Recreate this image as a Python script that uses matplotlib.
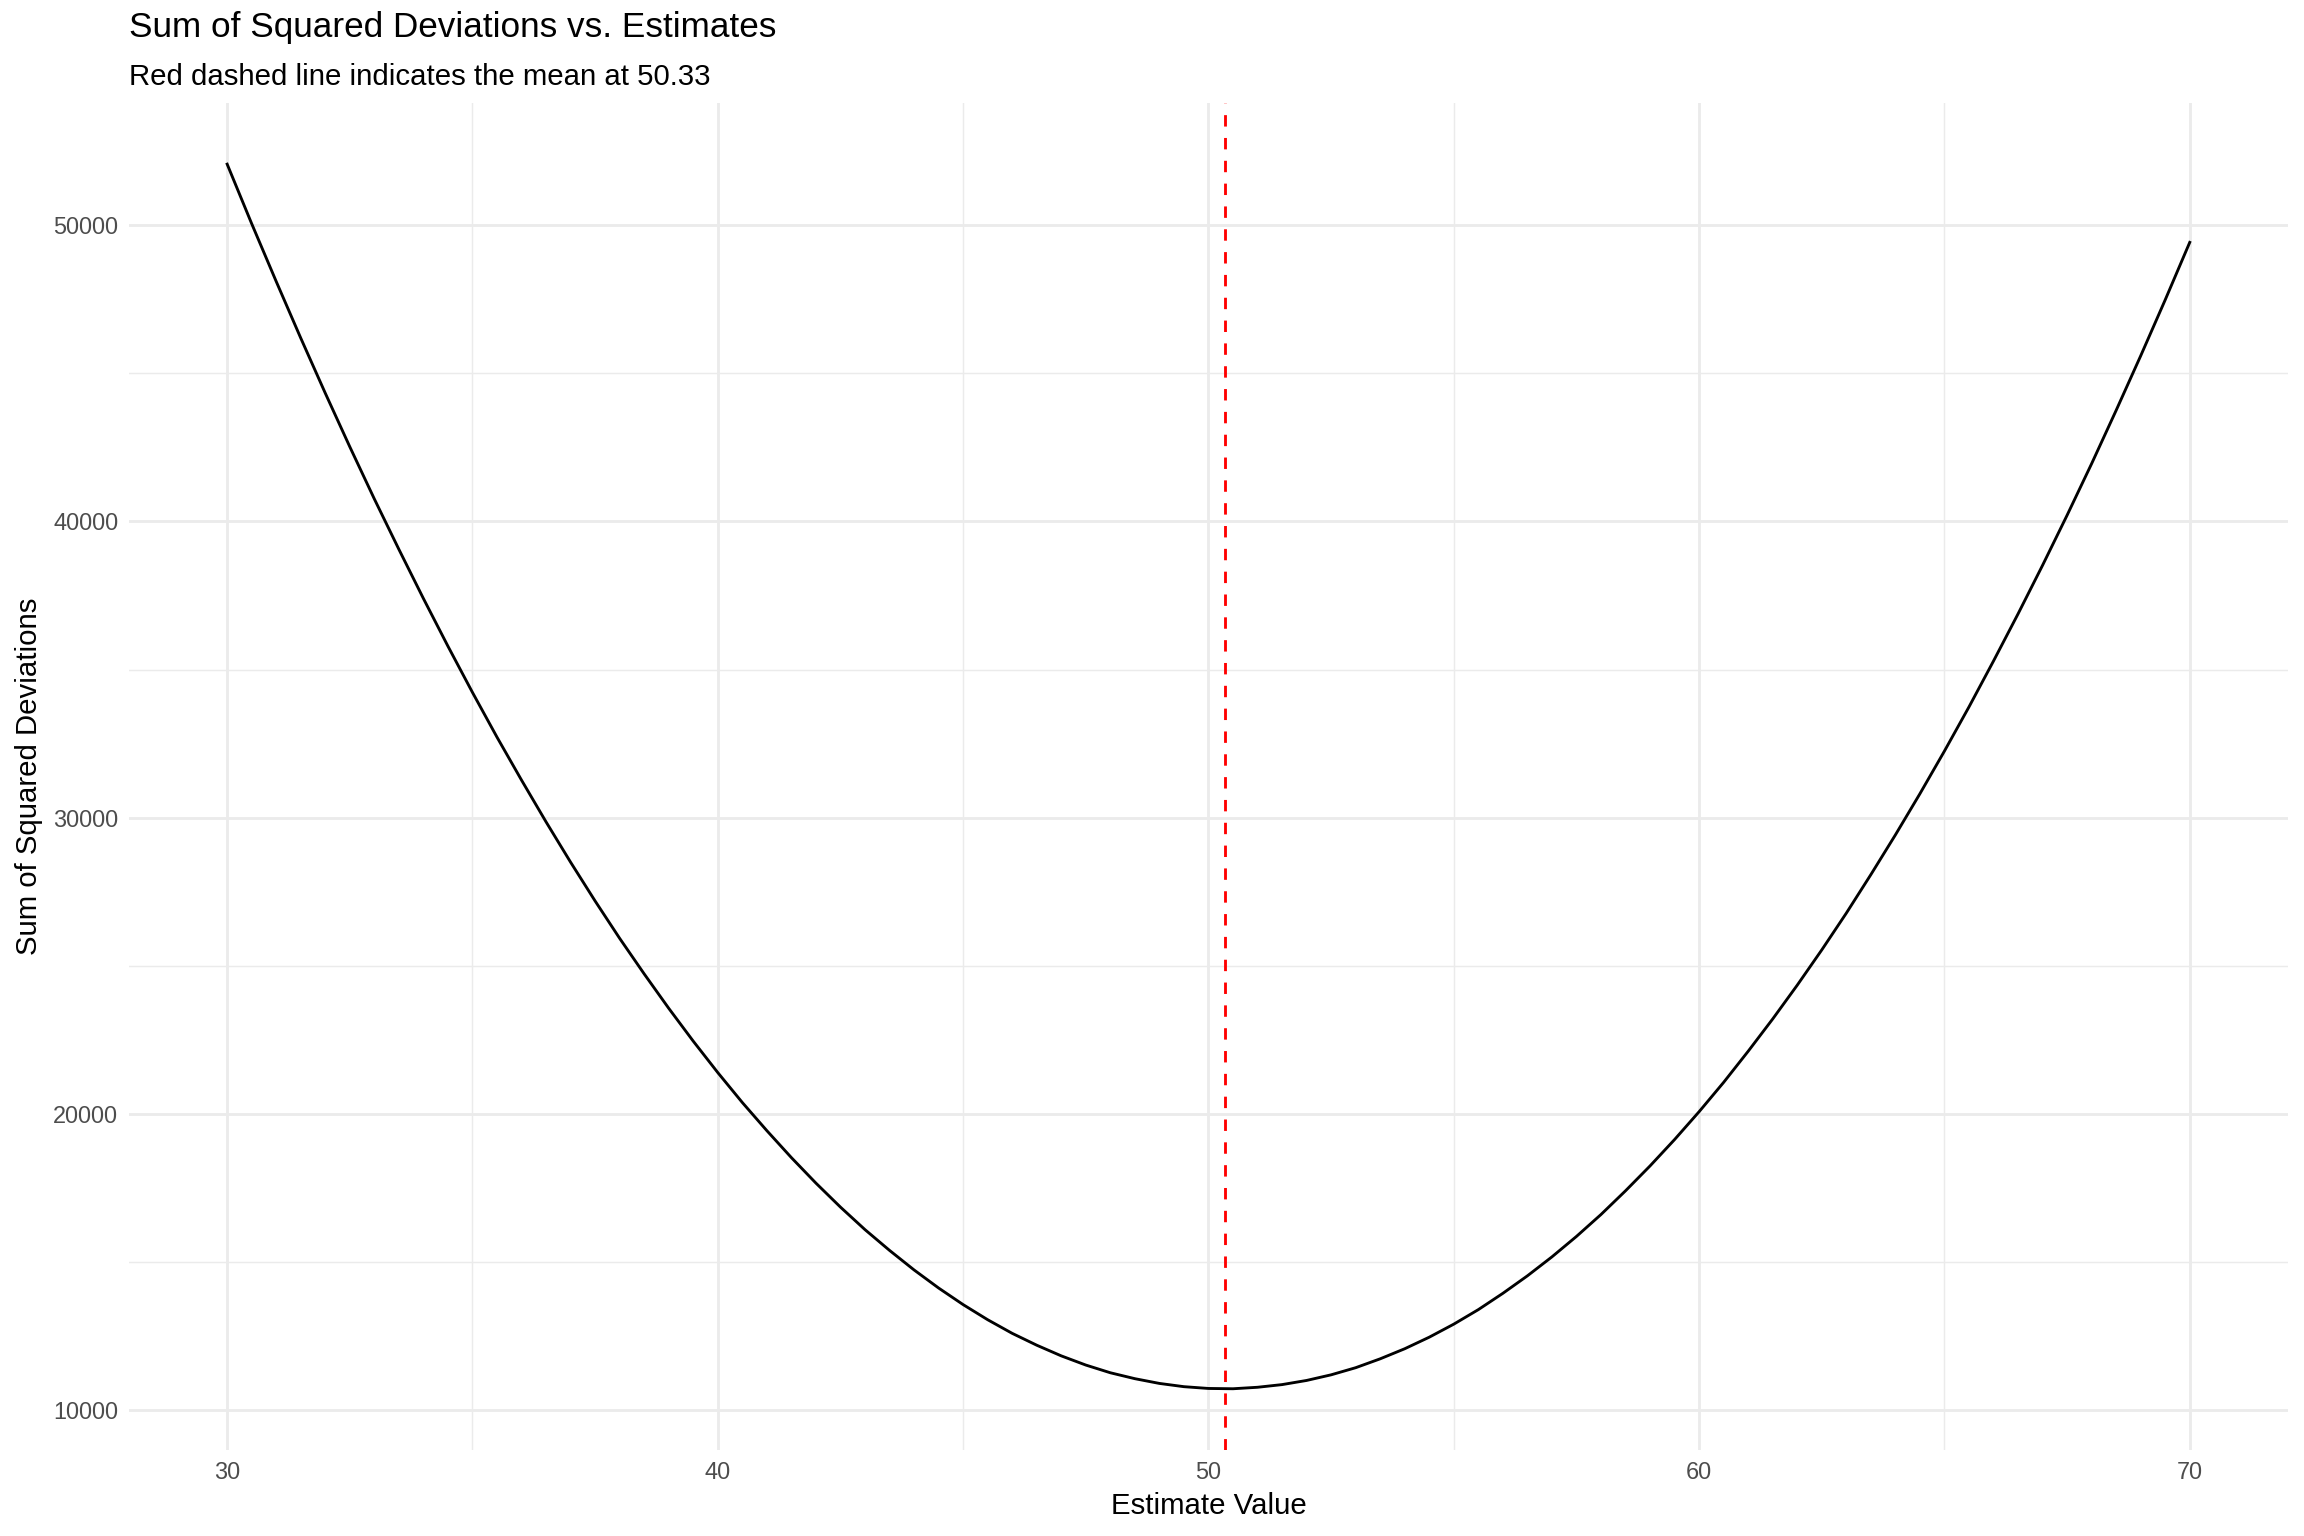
import numpy as np
import matplotlib.pyplot as plt
from matplotlib.ticker import MultipleLocator

# values, every half unit of estimate from 30 to 70
estimates = np.arange(30, 70.5, 0.5)
ssd = [52060, 50050, 48100, 46190, 44330, 42520, 40760, 39060, 37400, 35790,
       34230, 32720, 31270, 29860, 28500, 27190, 25930, 24730, 23570, 22460,
       21400, 20390, 19440, 18530, 17670, 16860, 16100, 15400, 14740, 14130,
       13570, 13060, 12600, 12200, 11840, 11530, 11270, 11070, 10910, 10800,
       10740, 10730, 10780, 10870, 11010, 11200, 11440, 11740, 12080, 12470,
       12910, 13400, 13950, 14540, 15180, 15870, 16610, 17410, 18250, 19140,
       20080, 21070, 22120, 23210, 24350, 25540, 26780, 28080, 29420, 30810,
       32250, 33740, 35290, 36880, 38520, 40210, 41950, 43750, 45590, 47480,
       49420]
mean_value = 50.33

plt.rcParams['font.family'] = ['Liberation Sans', 'DejaVu Sans']

fig = plt.figure(figsize=(12, 8), dpi=192)
ax = fig.add_axes([0.056, 0.056, 0.937, 0.877])

lw = 1.07  # ggplot linewidth 0.5
ax.plot(estimates, ssd, color='black', linewidth=lw, zorder=3)
ax.axvline(mean_value, color='red', linewidth=lw, linestyle=(0, (4, 4)), zorder=4)

ax.margins(x=0.05, y=0.05)
ax.xaxis.set_major_locator(MultipleLocator(10))
ax.xaxis.set_minor_locator(MultipleLocator(5))
ax.yaxis.set_major_locator(MultipleLocator(10000))
ax.yaxis.set_minor_locator(MultipleLocator(5000))

ax.grid(which='major', color='#EBEBEB', linewidth=lw, zorder=0)
ax.grid(which='minor', color='#EBEBEB', linewidth=lw / 2, zorder=0)
ax.set_axisbelow(True)
for s in ax.spines.values():
    s.set_visible(False)
ax.tick_params(which='both', length=0, labelsize=8.8, labelcolor='#4D4D4D', pad=4)

ax.set_xlabel('Estimate Value', fontsize=11, labelpad=3)
ax.set_ylabel('Sum of Squared Deviations', fontsize=11, labelpad=4)

fig.text(0.056, 0.982, 'Sum of Squared Deviations vs. Estimates', fontsize=13.2,
         va='center', ha='left')
fig.text(0.056, 0.950, 'Red dashed line indicates the mean at 50.33', fontsize=11,
         va='center', ha='left')

fig.savefig('out.png', dpi=192)
